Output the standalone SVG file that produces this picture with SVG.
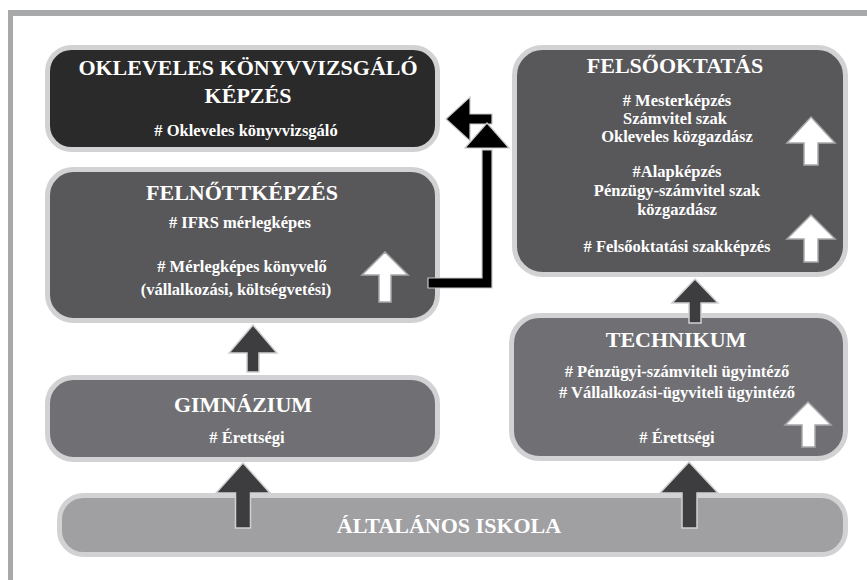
<svg xmlns="http://www.w3.org/2000/svg" width="867" height="580" viewBox="0 0 867 580">
<style>
.box{stroke:#d2d2d4;stroke-width:5}
.b1{fill:#2a2a2a}
.b2{fill:#58585b}
.b3{fill:#707074}
.b4{fill:#a0a0a3}
.t{font-family:"Liberation Serif","Times New Roman",serif;font-weight:bold;fill:#ffffff;text-anchor:middle}
.h{font-size:22px}
.i{font-size:16.5px}
.wa{fill:#ffffff;stroke:#a8a8aa;stroke-width:1.5;stroke-linejoin:miter}
.da{fill:#3d3d3f;stroke:#d0d0d2;stroke-width:1.5}
.ka{fill:#000000;stroke:#c8c8ca;stroke-width:1.2}
</style>
<rect width="867" height="580" fill="#ffffff"/>
<g id="frame" fill="#a7a8aa">
<rect x="8" y="10" width="859" height="6"/>
<rect x="8" y="10" width="5" height="570"/>
</g>
<g id="okleveles">
<rect class="box b1" x="47.5" y="47.5" width="390" height="102" rx="24"/>
<text class="t h" x="248" y="75">OKLEVELES KÖNYVVIZSGÁLÓ</text>
<text class="t h" x="248" y="103">KÉPZÉS</text>
<text class="t i" x="246" y="136"># Okleveles könyvvizsgáló</text>
</g>
<g id="felnottkepzes">
<rect class="box b2" x="47.5" y="169.5" width="390" height="151" rx="26"/>
<text class="t h" x="242" y="200">FELNŐTTKÉPZÉS</text>
<text class="t i" x="240" y="228"># IFRS mérlegképes</text>
<text class="t i" x="242" y="272"># Mérlegképes könyvelő</text>
<text class="t i" x="236" y="295">(vállalkozási, költségvetési)</text>
<path class="wa" d="M385,252 L408,275 L391,275 L391,302 L379,302 L379,275 L362,275 Z"/>
</g>
<g id="felsooktatas">
<rect class="box b2" x="514.5" y="47.5" width="331" height="227" rx="28"/>
<text class="t h" x="675" y="73">FELSŐOKTATÁS</text>
<text class="t i" x="677" y="106"># Mesterképzés</text>
<text class="t i" x="675" y="124">Számvitel szak</text>
<text class="t i" x="677" y="142">Okleveles közgazdász</text>
<text class="t i" x="677" y="177">#Alapképzés</text>
<text class="t i" x="677" y="196">Pénzügy-számvitel szak</text>
<text class="t i" x="677" y="214.5">közgazdász</text>
<text class="t i" x="677" y="252"># Felsőoktatási szakképzés</text>
<path class="wa" d="M811,117 L835,143 L818,143 L818,165 L804,165 L804,143 L787,143 Z"/>
<path class="wa" d="M811,215 L835,239 L818,239 L818,262 L804,262 L804,239 L787,239 Z"/>
</g>
<g id="technikum">
<rect class="box b3" x="511.5" y="315.5" width="334" height="143" rx="28"/>
<text class="t h" x="676" y="347">TECHNIKUM</text>
<text class="t i" x="677" y="377"># Pénzügyi-számviteli ügyintéző</text>
<text class="t i" x="677" y="398"># Vállalkozási-ügyviteli ügyintéző</text>
<text class="t i" x="677" y="443"># Érettségi</text>
<path class="wa" d="M808,402 L831,425 L815,425 L815,447 L802,447 L802,425 L785,425 Z"/>
</g>
<g id="gimnazium">
<rect class="box b3" x="47.5" y="377.5" width="390" height="82" rx="26"/>
<text class="t h" x="243" y="412">GIMNÁZIUM</text>
<text class="t i" x="247" y="443"># Érettségi</text>
</g>
<g id="altalanos">
<rect class="box b4" x="59.5" y="495.5" width="786" height="59" rx="24"/>
<text class="t h" x="449" y="533">ÁLTALÁNOS ISKOLA</text>
</g>
<g id="connectors">
<path class="da" d="M253,325 L277,353 L259,353 L259,372 L247,372 L247,353 L229,353 Z"/>
<path class="da" d="M243,463 L270,493 L250.5,493 L250.5,528 L235.5,528 L235.5,493 L216,493 Z"/>
<path class="da" d="M695,279 L718,303 L701,303 L701,323 L689,323 L689,303 L672,303 Z"/>
<path class="da" d="M689,462 L718,493 L697,493 L697,528 L682,528 L682,493 L660,493 Z"/>
<path class="ka" d="M428,278 L482,278 L482,150 L492,150 L492,288 L428,288 Z"/>
<path class="ka" d="M446,119 L470,97 L470,114 L492,114 L492,124 L470,124 L470,141 Z"/>
<path class="ka" d="M487,123 L509,148 L465,148 Z"/>
</g>
</svg>
